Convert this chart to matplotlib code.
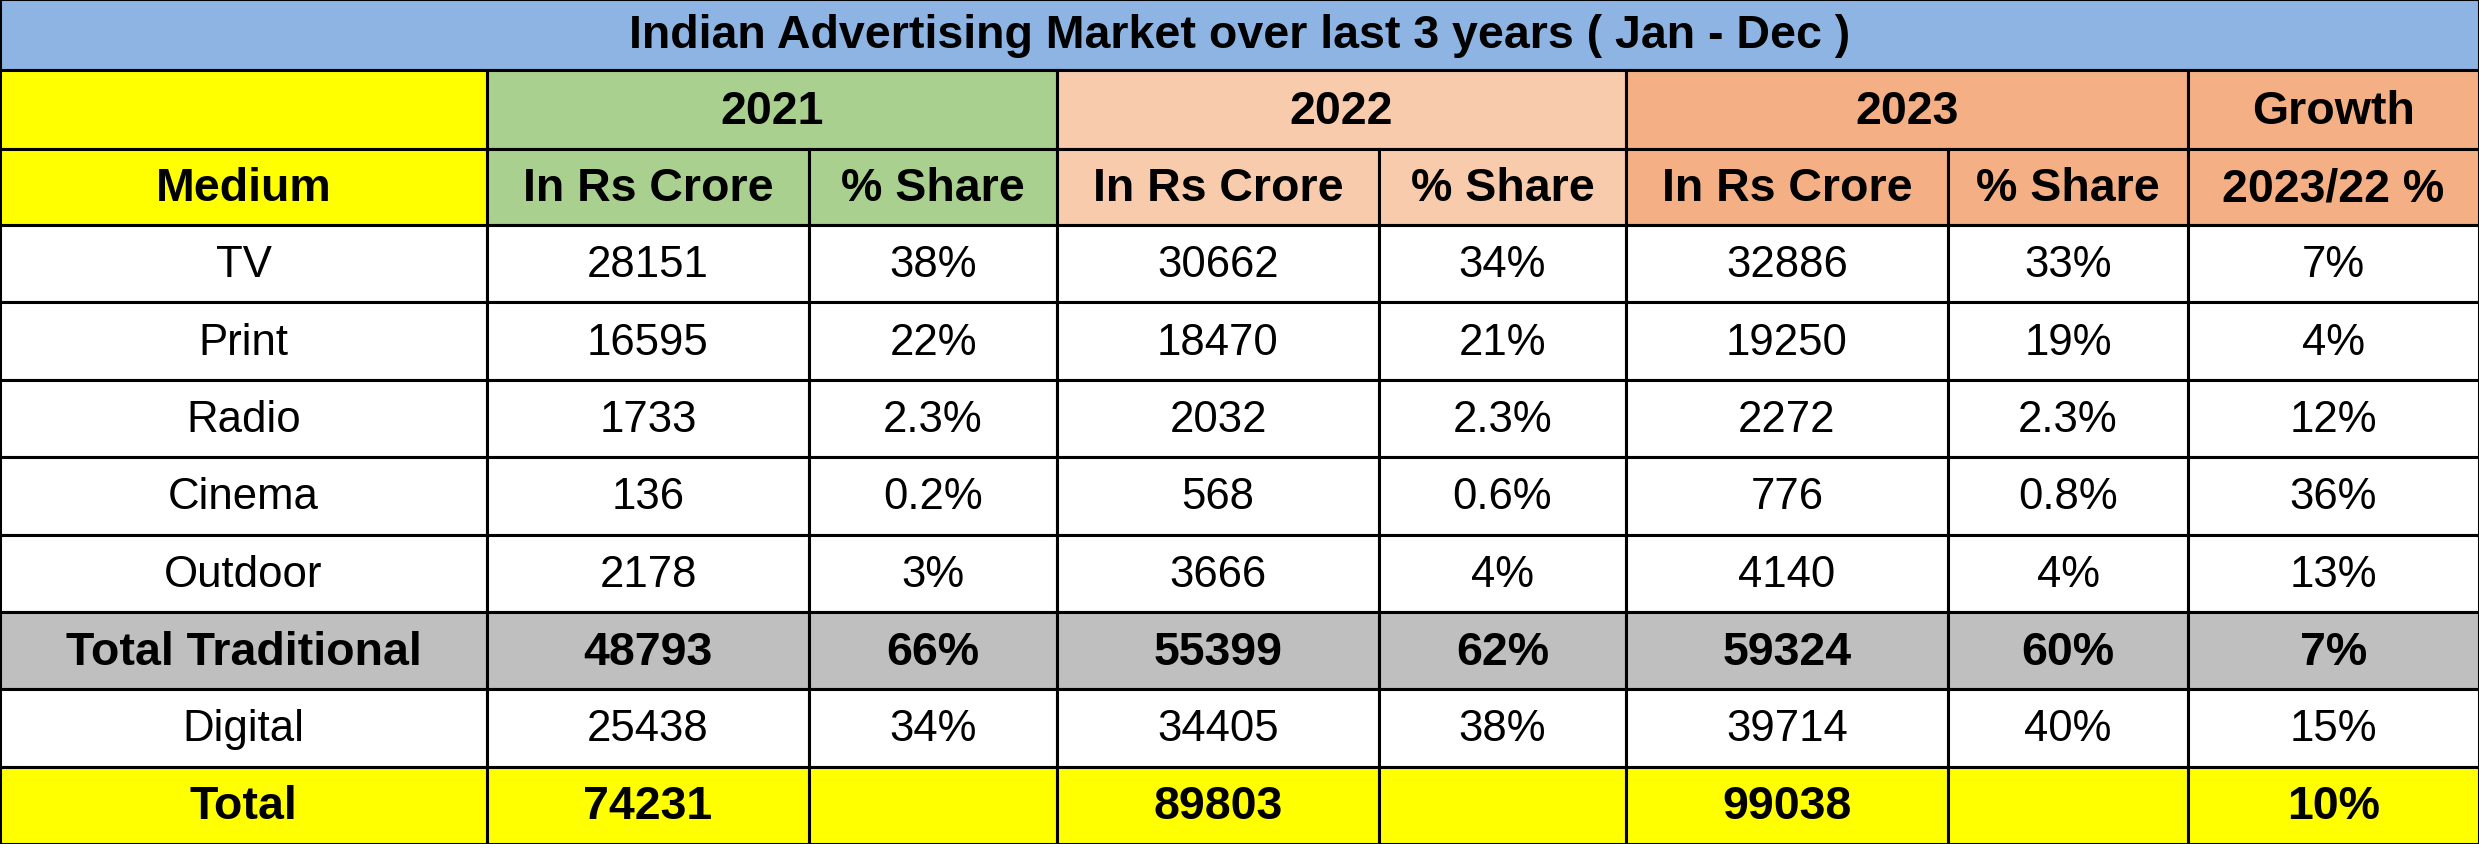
import matplotlib.pyplot as plt
from matplotlib.patches import Rectangle

plt.rcParams["font.family"] = ["Liberation Sans", "DejaVu Sans"]

title = "Indian Advertising Market over last 3 years ( Jan - Dec )"
years = ["2021", "2022", "2023"]
sub_headers = ["In Rs Crore", "% Share"]
growth_header = ["Growth", "2023/22 %"]

media = ["TV", "Print", "Radio", "Cinema", "Outdoor", "Total Traditional", "Digital", "Total"]
crore_2021 = [28151, 16595, 1733, 136, 2178, 48793, 25438, 74231]
share_2021 = ["38%", "22%", "2.3%", "0.2%", "3%", "66%", "34%", ""]
crore_2022 = [30662, 18470, 2032, 568, 3666, 55399, 34405, 89803]
share_2022 = ["34%", "21%", "2.3%", "0.6%", "4%", "62%", "38%", ""]
crore_2023 = [32886, 19250, 2272, 776, 4140, 59324, 39714, 99038]
share_2023 = ["33%", "19%", "2.3%", "0.8%", "4%", "60%", "40%", ""]
growth = ["7%", "4%", "12%", "36%", "13%", "7%", "15%", "10%"]

# layout (pixels)
W, H = 2479, 845
col_edges = [0, 487, 809, 1057, 1379, 1626, 1948, 2188, W]
title_h = 71
head_edges = [71, 150, 226]
row_h = (H - head_edges[-1]) / len(media)

year_colors = ["#A9D08E", "#F8CBAD", "#F4B084"]
growth_color = "#F4B084"
yellow = "#FFFF00"
gray = "#BFBFBF"
blue = "#8DB4E2"
fs_bold = 33.5
fs_reg = 31.5
lw = 2.2

fig = plt.figure(figsize=(W / 100, H / 100), dpi=100)
ax = fig.add_axes([0, 0, 1, 1])
ax.set_xlim(0, W)
ax.set_ylim(H, 0)
ax.axis("off")


def cell(x0, x1, y0, y1, color, text="", bold=False):
    ax.add_patch(Rectangle((x0, y0), x1 - x0, y1 - y0, facecolor=color,
                           edgecolor="black", linewidth=lw))
    if text:
        ax.text((x0 + x1) / 2, (y0 + y1) / 2 + 1, text, ha="center", va="center",
                fontsize=fs_bold if bold else fs_reg,
                fontweight="bold" if bold else "normal")


# title band
cell(0, W, 0, title_h, blue, title, bold=True)

# header rows
cell(col_edges[0], col_edges[1], head_edges[0], head_edges[1], yellow)
cell(col_edges[0], col_edges[1], head_edges[1], head_edges[2], yellow, "Medium", bold=True)
for i, yr in enumerate(years):
    a, b, c = col_edges[1 + 2 * i], col_edges[2 + 2 * i], col_edges[3 + 2 * i]
    cell(a, c, head_edges[0], head_edges[1], year_colors[i], yr, bold=True)
    cell(a, b, head_edges[1], head_edges[2], year_colors[i], sub_headers[0], bold=True)
    cell(b, c, head_edges[1], head_edges[2], year_colors[i], sub_headers[1], bold=True)
cell(col_edges[7], col_edges[8], head_edges[0], head_edges[1], growth_color, growth_header[0], bold=True)
cell(col_edges[7], col_edges[8], head_edges[1], head_edges[2], growth_color, growth_header[1], bold=True)

# body
columns = [media, crore_2021, share_2021, crore_2022, share_2022, crore_2023, share_2023, growth]
for r, name in enumerate(media):
    y0 = head_edges[-1] + r * row_h
    y1 = y0 + row_h
    if name == "Total Traditional":
        bg, bold = gray, True
    elif name == "Total":
        bg, bold = yellow, True
    else:
        bg, bold = "white", False
    for c, col in enumerate(columns):
        cell(col_edges[c], col_edges[c + 1], y0, y1, bg, str(col[r]), bold=bold)

fig.savefig("out.png", dpi=100)
